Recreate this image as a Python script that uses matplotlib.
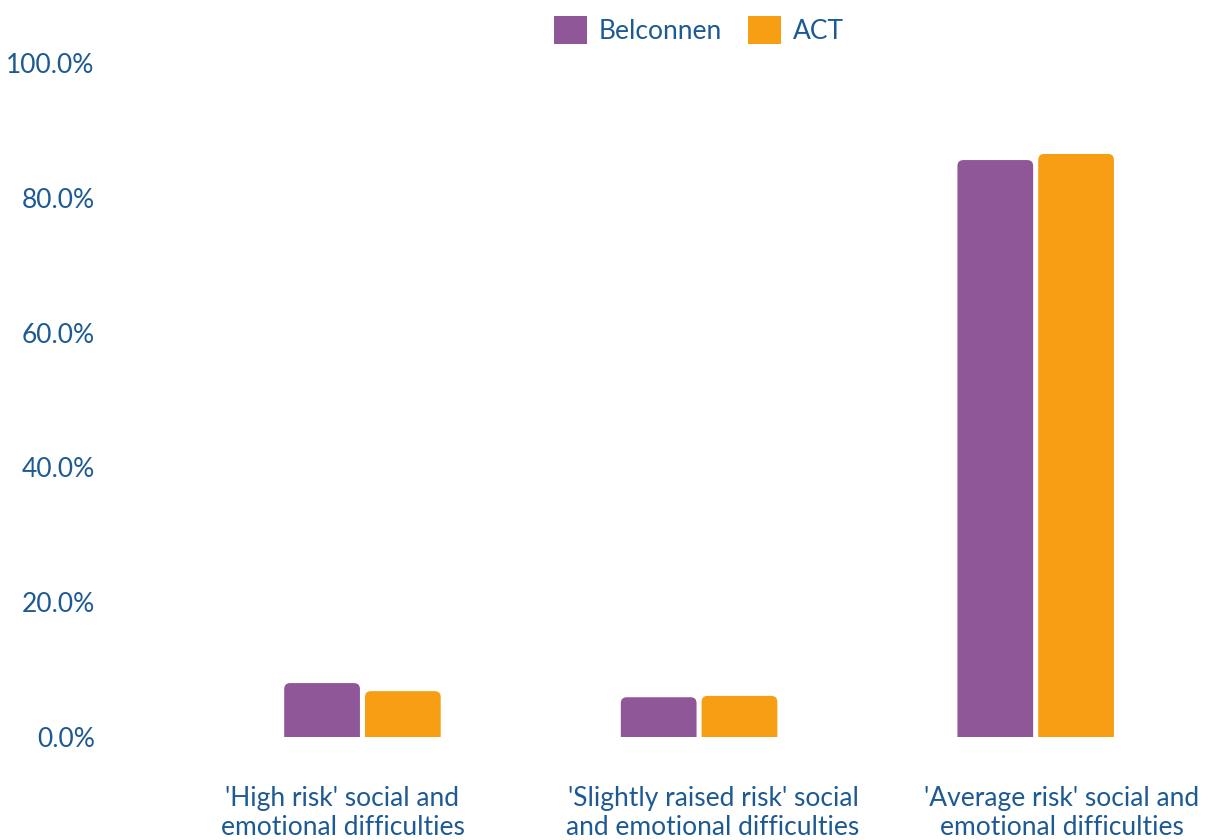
import matplotlib.pyplot as plt
import numpy as np
from matplotlib.patches import FancyBboxPatch
from matplotlib.ticker import FuncFormatter
from matplotlib.transforms import ScaledTranslation

plt.rcParams["font.family"] = ["Lato", "DejaVu Sans"]

categories = [
    "'High risk' social and\nemotional difficulties",
    "'Slightly raised risk' social\nand emotional difficulties",
    "'Average risk' social and\nemotional difficulties",
]
belconnen = [8.0, 5.9, 85.6]
act = [6.8, 6.1, 86.5]

PURPLE = "#8f5797"
ORANGE = "#f79e14"
TEXT = "#1d5a94"

fig = plt.figure(figsize=(12.09, 8.4), dpi=100)
ax = fig.add_axes([110 / 1209, 103 / 840, 1094 / 1209, 674 / 840])
ax.set_xlim(-0.75, 2.5)
ax.set_ylim(0, 100)

x = np.arange(len(categories))
width = 0.225
offset = 0.12

# draw plain bars first, then swap each one for a rounded-top patch
bars_b = ax.bar(x - offset, belconnen, width, color=PURPLE, label="Belconnen")
bars_a = ax.bar(x + offset, act, width, color=ORANGE, label="ACT")

fig.canvas.draw()
p0 = ax.transData.transform((0, 0))
p1 = ax.transData.transform((1, 1))
aspect = (p1[0] - p0[0]) / (p1[1] - p0[1])
r = 6 / (p1[0] - p0[0])

for bars in (bars_b, bars_a):
    for b in bars:
        b.set_visible(False)
        ext = 2.0  # push the bottom below zero so only the top corners show
        patch = FancyBboxPatch(
            (b.get_x(), -ext), b.get_width(), b.get_height() + ext,
            boxstyle=f"round,pad=0,rounding_size={r}",
            mutation_aspect=aspect,
            facecolor=b.get_facecolor(), edgecolor="none",
        )
        ax.add_patch(patch)

ax.set_xticks(x)
ax.set_xticklabels(categories, fontsize=19, color=TEXT, linespacing=1.2)
ax.set_yticks(np.arange(0, 101, 20))
ax.yaxis.set_major_formatter(FuncFormatter(lambda v, _: f"{v:.1f}%"))
ax.tick_params(axis="y", labelsize=19, labelcolor=TEXT, length=0, pad=11)
ax.tick_params(axis="x", length=0, pad=35)

# wrapped category labels sit slightly off the bar-group centres
for lbl, dx in zip(ax.get_xticklabels(), [-20, 14, 26]):
    lbl.set_transform(lbl.get_transform() + ScaledTranslation(dx / 100, 0, fig.dpi_scale_trans))

for s in ax.spines.values():
    s.set_visible(False)

leg = fig.legend(
    handles=[bars_b, bars_a], labels=["Belconnen", "ACT"],
    loc="center", bbox_to_anchor=(699 / 1209, 1 - 30 / 840),
    ncol=2, frameon=False, fontsize=19, handlelength=1.25, handleheight=1.25,
    handletextpad=0.45, columnspacing=1.0, labelcolor=TEXT,
)
for h in leg.legend_handles:
    h.set_visible(True)

fig.savefig("out.png", dpi=100)
